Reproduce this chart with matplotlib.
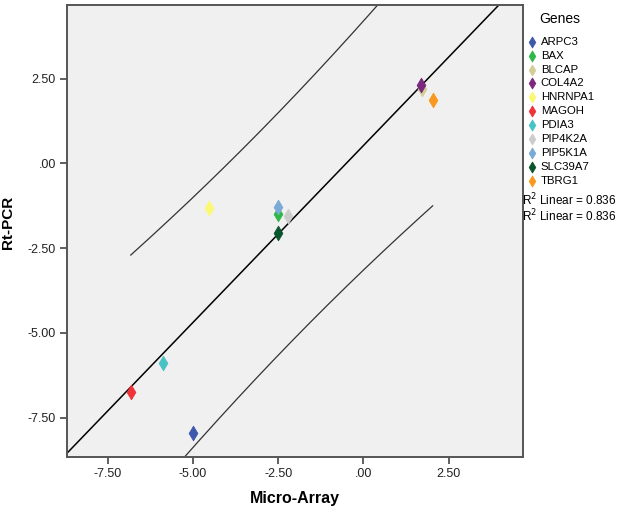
import numpy as np
import matplotlib
matplotlib.use("Agg")
import matplotlib.pyplot as plt
from matplotlib.ticker import FuncFormatter

plt.rcParams['font.family'] = ['Liberation Sans', 'DejaVu Sans']

genes = ["ARPC3", "BAX", "BLCAP", "COL4A2", "HNRNPA1", "MAGOH",
         "PDIA3", "PIP4K2A", "PIP5K1A", "SLC39A7", "TBRG1"]
micro_array = [-5.00, -2.51, 1.71, 1.68, -4.52, -6.82, -5.89, -2.20, -2.51, -2.51, 2.03]
rt_pcr = [-7.96, -1.50, 2.18, 2.31, -1.33, -6.74, -5.88, -1.55, -1.30, -2.04, 1.87]
colors = ["#3e58ac", "#2eb848", "#d3ce97", "#7c287d", "#fbf873", "#ef3338",
          "#48c2c5", "#cccccc", "#7aaad5", "#0a562c", "#f8981d"]
xticks = [-7.5, -5.0, -2.5, 0.0, 2.5]
yticks = [-7.5, -5.0, -2.5, 0.0, 2.5]
r2_text = "0.836"

def spss_fmt(v, pos):
    s = "%.2f" % v
    if s.startswith("0."):
        s = s[1:]
    elif s.startswith("-0."):
        s = "-" + s[2:]
    return s

fig = plt.figure(figsize=(6.24, 5.09), dpi=100)
ax = fig.add_axes([0.1074, 0.1022, 0.7308, 0.888])
ax.set_facecolor("#f0f0f0")

# draw order so purple sits on top of the tan one
order = [0, 1, 2, 4, 5, 6, 7, 8, 9, 10, 3]
handles = {}
for i in order:
    h = ax.scatter(micro_array[i], rt_pcr[i], marker="d", s=55, color=colors[i],
                   edgecolors=colors[i], linewidths=0.6, zorder=3, label=genes[i])
    handles[i] = h

# regression line + 95% prediction interval
x = np.array(micro_array)
y = np.array(rt_pcr)
n = len(x)
b1, b0 = np.polyfit(x, y, 1)
resid = y - (b0 + b1 * x)
s = np.sqrt(np.sum(resid ** 2) / (n - 2))
sxx = np.sum((x - x.mean()) ** 2)
t975 = 2.262  # t(0.975, df=9)

xl = np.linspace(-10, 6, 50)
ax.plot(xl, b0 + b1 * xl, color="black", lw=1.1, zorder=2)
xp = np.linspace(x.min(), x.max(), 200)
half = t975 * s * np.sqrt(1 + 1.0 / n + (xp - x.mean()) ** 2 / sxx)
ax.plot(xp, b0 + b1 * xp + half, color="#333333", lw=0.9, zorder=2)
ax.plot(xp, b0 + b1 * xp - half, color="#333333", lw=0.9, zorder=2)

ax.set_xlim(-8.69, 4.68)
ax.set_ylim(-8.66, 4.67)
ax.set_xticks(xticks)
ax.set_yticks(yticks)
ax.xaxis.set_major_formatter(FuncFormatter(spss_fmt))
ax.yaxis.set_major_formatter(FuncFormatter(spss_fmt))
ax.tick_params(direction="out", length=5, width=1.2, color="#444444",
               labelsize=9, labelcolor="#222222", pad=3)
for sp in ax.spines.values():
    sp.set_color("#555555")
    sp.set_linewidth(1.4)

ax.set_xlabel("Micro-Array", fontsize=11.5, fontweight="bold", labelpad=8)
ax.set_ylabel("Rt-PCR", fontsize=11, fontweight="bold", labelpad=10)
ax.yaxis.set_label_coords(-0.115, 0.52)

fig.text(560 / 624, 1 - 19 / 509, "Genes", fontsize=10, ha="center", va="center")
leg = fig.legend([handles[i] for i in range(len(genes))], genes,
                 loc="upper left", bbox_to_anchor=(0.843, 0.928),
                 frameon=False, fontsize=8.2,
                 handletextpad=0.3, labelspacing=0.345, borderaxespad=0,
                 borderpad=0, handlelength=1.0, markerscale=0.75)

fig.text(522 / 624, 1 - 200 / 509, "R$^2$ Linear = " + r2_text, fontsize=8.5,
         va="center", ha="left")
fig.text(522 / 624, 1 - 216 / 509, "R$^2$ Linear = " + r2_text, fontsize=8.5,
         va="center", ha="left")

fig.savefig("out.png", dpi=100)
